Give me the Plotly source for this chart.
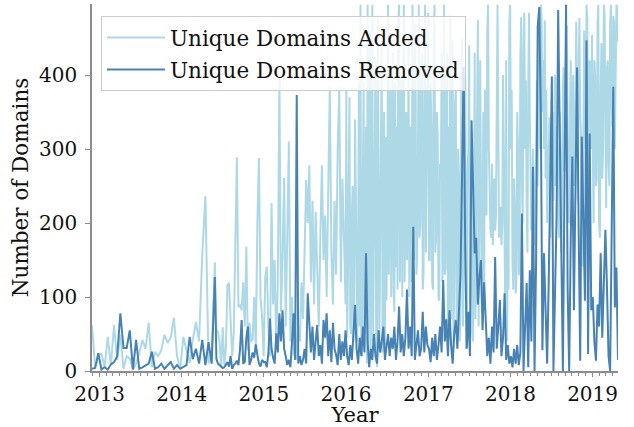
import pandas as pd
import plotly.graph_objects as go

# ---- dates ----
dates_early = pd.date_range("2012-11-28", periods=40, freq="14D")        # biweekly start
dates_weekly = pd.date_range("2014-06-04", periods=256, freq="7D")       # weekly
dates_added_dense = pd.date_range("2016-01-02 12:00", periods=346, freq="84h")  # twice weekly (added)

# ---- Unique Domains Added ----
added_early = [62, 5, 20, 24, 5, 46, 8, 62, 15, 49, 3, 20, 17, 2, 10, 24, 42, 30, 65, 5,
               26, 20, 28, 49, 38, 45, 72, 20, 3, 46, 28, 11, 42, 66, 40, 157, 236, 10, 25, 147]
added_2014 = [55, 53, 40, 5, 59, 8, 30, 116, 119, 60, 20, 50, 150, 289, 86, 90, 82, 120, 60, 168,
              28, 65, 40, 42, 100, 30, 200, 288, 100, 73, 20]
added_2015 = [127, 141, 60, 20, 227, 90, 150, 30, 120, 393, 80, 150, 261, 60, 180, 310, 40, 100, 20, 55,
              15, 60, 40, 120, 70, 150, 258, 200, 278, 120, 230, 90, 215, 140, 60, 180, 278, 150, 210, 100,
              250, 384, 160, 90, 230, 130, 300, 384, 120, 260, 180, 90]
added_2016 = [380, 45, 120, 300, 370, 60, 50, 210, 250, 40, 90, 340, 231, 55, 40, 180, 389, 60, 495, 45,
              20, 260, 389, 50, 80,
              330, 10, 495, 30, 200, 460, 15, 280, 495, 40, 150, 360, 420, 20, 5, 480, 300, 45, 180, 410,
              440, 25, 95, 350, 30,
              316, 95, 210, 495, 130, 290, 380, 100, 250, 430, 110, 80,
              390, 140, 330, 110, 470, 495, 120, 310, 400, 100, 235, 495, 120, 260, 350, 150, 200, 440,
              100, 330,
              270, 120, 495, 210, 150, 470, 380, 130, 160, 300, 495, 180, 200, 420, 430, 110, 130, 380,
              495, 160, 300, 450]
added_2017 = [484, 150, 150, 390, 330, 120, 110, 460, 495, 160, 180, 350, 320, 100, 95, 280, 260, 430, 120, 170,
              495, 130, 140, 400, 430,
              40, 330, 60, 480, 70, 250, 447, 30, 120, 360, 380, 50, 80, 300, 260, 40, 90, 410, 450, 60,
              130, 330, 400, 30, 60, 270, 300, 440, 90, 230, 280, 50, 40, 200, 430, 70, 190, 380, 474, 60,
              220, 420, 250, 80, 170, 350, 95,
              380, 240, 210, 460, 495, 300, 240, 190, 180, 280, 170, 220, 260, 190, 210, 350, 495, 330, 180, 200,
              222, 170, 200, 400, 280, 190,
              60, 420, 40, 150, 110, 470]
added_2018 = [495, 300, 380, 150, 110, 260, 222, 105, 120, 350, 300, 130, 140, 420, 478, 260, 200, 440, 484, 300,
              393, 220, 160, 380, 484, 350, 225, 190, 200, 300, 250, 170, 210, 330, 393, 250, 465, 380, 300, 495,
              474, 350, 420, 300, 474, 260, 380, 200, 250, 310, 343, 180, 200, 280, 350, 230, 343, 400, 250, 330,
              300, 210, 180, 350, 290, 160, 220, 380, 411, 270, 300, 440, 467, 320, 250, 200, 350, 420, 200, 290,
              400, 250, 300, 360, 472, 280, 230, 400, 477, 350, 320, 220, 141, 300, 460, 380, 300, 495, 477, 330,
              250, 420, 380, 300]
added_2019 = [454, 300, 200, 420, 398, 250, 260, 470, 495, 200, 180, 380, 443, 260, 300, 495, 480, 330, 220, 410,
              420, 280, 250, 470, 495, 360, 330, 480, 470, 300, 400, 495, 490, 445]

# ---- Unique Domains Removed ----
removed_early = [3, 4, 24, 2, 5, 2, 9, 12, 20, 78, 31, 31, 55, 2, 42, 3, 5, 8, 10, 26,
                 3, 5, 10, 3, 8, 12, 3, 8, 3, 6, 8, 46, 16, 30, 10, 42, 8, 39, 10, 127]
removed_2014 = [16, 10, 8, 6, 4, 5, 8, 12, 6, 20, 3, 8, 10, 14, 8, 30, 69, 10, 12, 45,
                60, 8, 15, 25, 18, 36, 22, 10, 6, 15, 12]
removed_2015 = [12, 5, 24, 71, 30, 18, 10, 51, 25, 78, 40, 82, 30, 20, 8, 15, 5, 40, 78, 15,
                373, 10, 20, 8, 15, 30, 10, 105, 70, 25, 60, 15, 40, 62, 20, 35, 10, 69, 45, 78,
                20, 55, 12, 65, 30, 22, 8, 50, 15, 40, 20, 55]
removed_2016 = [20, 8, 35, 15, 50, 89, 30, 10, 45, 20, 60, 25, 159, 40, 5, 30, 15, 50, 20, 10,
                55, 25, 40, 60, 15, 35, 50, 20, 45, 30, 60, 15, 40, 87, 25, 50, 20, 45, 110, 30,
                60, 20, 195, 15, 40, 55, 20, 30, 80, 25, 60, 35]
removed_2017 = [30, 12, 45, 20, 50, 15, 35, 60, 25, 123, 40, 70, 20, 82, 35, 10, 50, 69, 30, 90,
                132, 267, 411, 164, 30, 80, 20, 339, 222, 159, 180, 90, 127, 150, 55, 120, 70, 20, 45, 10,
                60, 25, 154, 30, 60, 96, 20, 45, 105, 15, 35, 10]
removed_2018 = [20, 5, 30, 10, 35, 8, 25, 213, 0, 60, 119, 5, 136, 40, 276, 0, 150, 465, 492, 349,
                28, 159, 68, 10, 120, 250, 398, 0, 100, 208, 488, 321, 167, 0, 250, 495, 113, 0, 180, 290,
                82, 243, 410, 193, 14, 317, 180, 95, 447, 23, 321, 82]
removed_2019 = [100, 40, 14, 90, 60, 159, 45, 120, 191, 113, 20, 0, 200, 384, 86, 140, 15]

added_x = list(dates_early) + list(dates_weekly[:83]) + list(dates_added_dense)
added = added_early + added_2014 + added_2015 + added_2016 + added_2017 + added_2018 + added_2019
removed_x = list(dates_early) + list(dates_weekly)
removed = removed_early + removed_2014 + removed_2015 + removed_2016 + removed_2017 + removed_2018 + removed_2019
assert len(added) == len(added_x), (len(added), len(added_x))
assert len(removed) == len(removed_x), (len(removed), len(removed_x))

year_ticks = ["2013-01-01", "2014-01-01", "2015-01-01", "2016-01-01", "2017-01-01", "2018-01-01", "2019-01-01"]
year_labels = ["2013", "2014", "2015", "2016", "2017", "2018", "2019"]
y_ticks = [0, 100, 200, 300, 400]

FONT = "DejaVu Serif"
AXIS_COLOR = "#8c8c8c"
TEXT_COLOR = "#111111"

fig = go.Figure()
fig.add_trace(go.Scatter(x=added_x, y=added, mode="lines", name="Unique Domains Added",
                         line=dict(color="lightblue", width=2), legendgroup="a"))
fig.add_trace(go.Scatter(x=removed_x, y=removed, mode="lines", name="Unique Domains Removed",
                         line=dict(color="steelblue", width=2), legendgroup="b"))

fig.update_layout(
    width=634, height=427,
    margin=dict(l=92, r=16, t=4, b=56),
    paper_bgcolor="white", plot_bgcolor="white",
    font=dict(family=FONT, size=20, color=TEXT_COLOR),
    showlegend=True,
    legend=dict(x=0.017, y=0.967, xanchor="left", yanchor="top",
                bgcolor="rgba(255,255,255,0.8)", bordercolor="#cccccc", borderwidth=1,
                font=dict(family=FONT, size=21.5, color=TEXT_COLOR),
                tracegroupgap=1, itemwidth=58),
    xaxis=dict(
        type="date", range=["2012-11-28", "2019-04-24"],
        tickvals=year_ticks, ticktext=year_labels,
        showline=True, linecolor=AXIS_COLOR, linewidth=1.5,
        ticks="outside", ticklen=4, tickwidth=1.2, tickcolor=AXIS_COLOR,
        minor=dict(dtick="M1", ticks="outside", ticklen=3, tickwidth=1, tickcolor=AXIS_COLOR),
        showgrid=False, zeroline=False, automargin=False,
        title=dict(text="Year", font=dict(family=FONT, size=21), standoff=2),
        tickfont=dict(family=FONT, size=20),
    ),
    yaxis=dict(
        range=[0, 496], tickvals=y_ticks,
        showline=True, linecolor=AXIS_COLOR, linewidth=1.5,
        ticks="outside", ticklen=5, tickwidth=1.2, tickcolor=AXIS_COLOR,
        ticklabelstandoff=4,
        showgrid=False, zeroline=False, automargin=False,
        title=dict(text="Number of Domains", font=dict(family=FONT, size=21.5), standoff=5),
        tickfont=dict(family=FONT, size=20),
    ),
)

fig.write_html("out.html", config={"displayModeBar": False},
               post_script="document.body.style.margin='0px';")
